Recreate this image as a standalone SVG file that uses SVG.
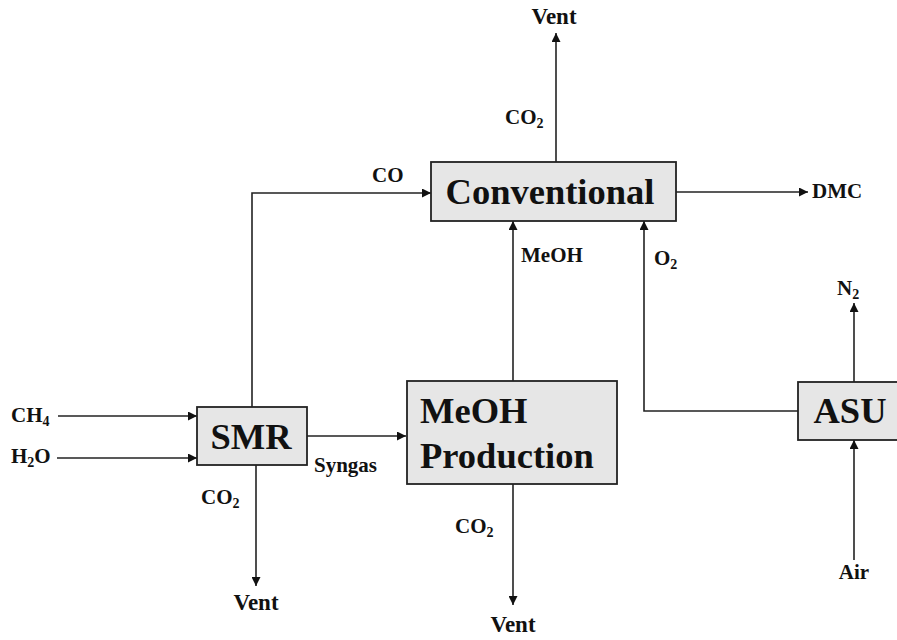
<svg xmlns="http://www.w3.org/2000/svg" width="897" height="640" viewBox="0 0 897 640">
<style>
text{font-family:"Liberation Serif","Times New Roman",serif;font-weight:bold;fill:#111}
.box{fill:#e6e6e6;stroke:#222;stroke-width:1.8}
.big{font-size:36.5px}
.lbl{font-size:21px}
.vent{font-size:23px}
.sub{font-size:14px}
.c{fill:none;stroke:#222;stroke-width:1.6;marker-end:url(#ah)}
</style>
<defs>
<marker id="ah" viewBox="0 0 10 10" refX="10" refY="5" markerWidth="10" markerHeight="9" markerUnits="userSpaceOnUse" orient="auto">
<path d="M0,0 L10,5 L0,10 z" fill="#111"/>
</marker>
</defs>
<rect width="897" height="640" fill="#fff"/>
<g id="connectors">
<path class="c" d="M556,162 V33"/>
<path class="c" d="M252,407 V193 H431"/>
<path class="c" d="M676,192 H808"/>
<path class="c" d="M513,381 V221"/>
<path class="c" d="M798,411 H644 V221"/>
<path class="c" d="M854,382 V303"/>
<path class="c" d="M854,560 V440"/>
<path class="c" d="M58,416 H197"/>
<path class="c" d="M57,458 H197"/>
<path class="c" d="M307,436 H406"/>
<path class="c" d="M256,465 V586"/>
<path class="c" d="M513,484 V605"/>
</g>
<g id="conventional">
<rect class="box" x="431" y="162" width="245" height="59"/>
<text class="big" x="550" y="204" text-anchor="middle">Conventional</text>
</g>
<g id="smr">
<rect class="box" x="197" y="407" width="110" height="58"/>
<text class="big" x="251" y="449" text-anchor="middle">SMR</text>
</g>
<g id="meoh">
<rect class="box" x="407" y="381" width="210" height="103"/>
<text class="big" x="420" y="423">MeOH</text>
<text class="big" x="420" y="468">Production</text>
</g>
<g id="asu">
<rect class="box" x="798" y="382" width="104" height="58"/>
<text class="big" x="850" y="423" text-anchor="middle">ASU</text>
</g>
<g id="labels">
<text class="vent" x="554" y="24" text-anchor="middle">Vent</text>
<text class="lbl" x="505" y="124">CO<tspan class="sub" dy="4">2</tspan></text>
<text class="lbl" x="372" y="182">CO</text>
<text class="lbl" x="812" y="198">DMC</text>
<text class="lbl" x="521" y="262">MeOH</text>
<text class="lbl" x="654" y="265">O<tspan class="sub" dy="4">2</tspan></text>
<text class="lbl" x="837" y="295">N<tspan class="sub" dy="4">2</tspan></text>
<text class="lbl" x="854" y="579" text-anchor="middle">Air</text>
<text class="lbl" x="11" y="422">CH<tspan class="sub" dy="4">4</tspan></text>
<text class="lbl" x="11" y="463">H<tspan class="sub" dy="4">2</tspan><tspan dy="-4">O</tspan></text>
<text class="lbl" x="314" y="472">Syngas</text>
<text class="lbl" x="201" y="504">CO<tspan class="sub" dy="4">2</tspan></text>
<text class="vent" x="256" y="610" text-anchor="middle">Vent</text>
<text class="lbl" x="455" y="533">CO<tspan class="sub" dy="4">2</tspan></text>
<text class="vent" x="513" y="632" text-anchor="middle">Vent</text>
</g>
</svg>
